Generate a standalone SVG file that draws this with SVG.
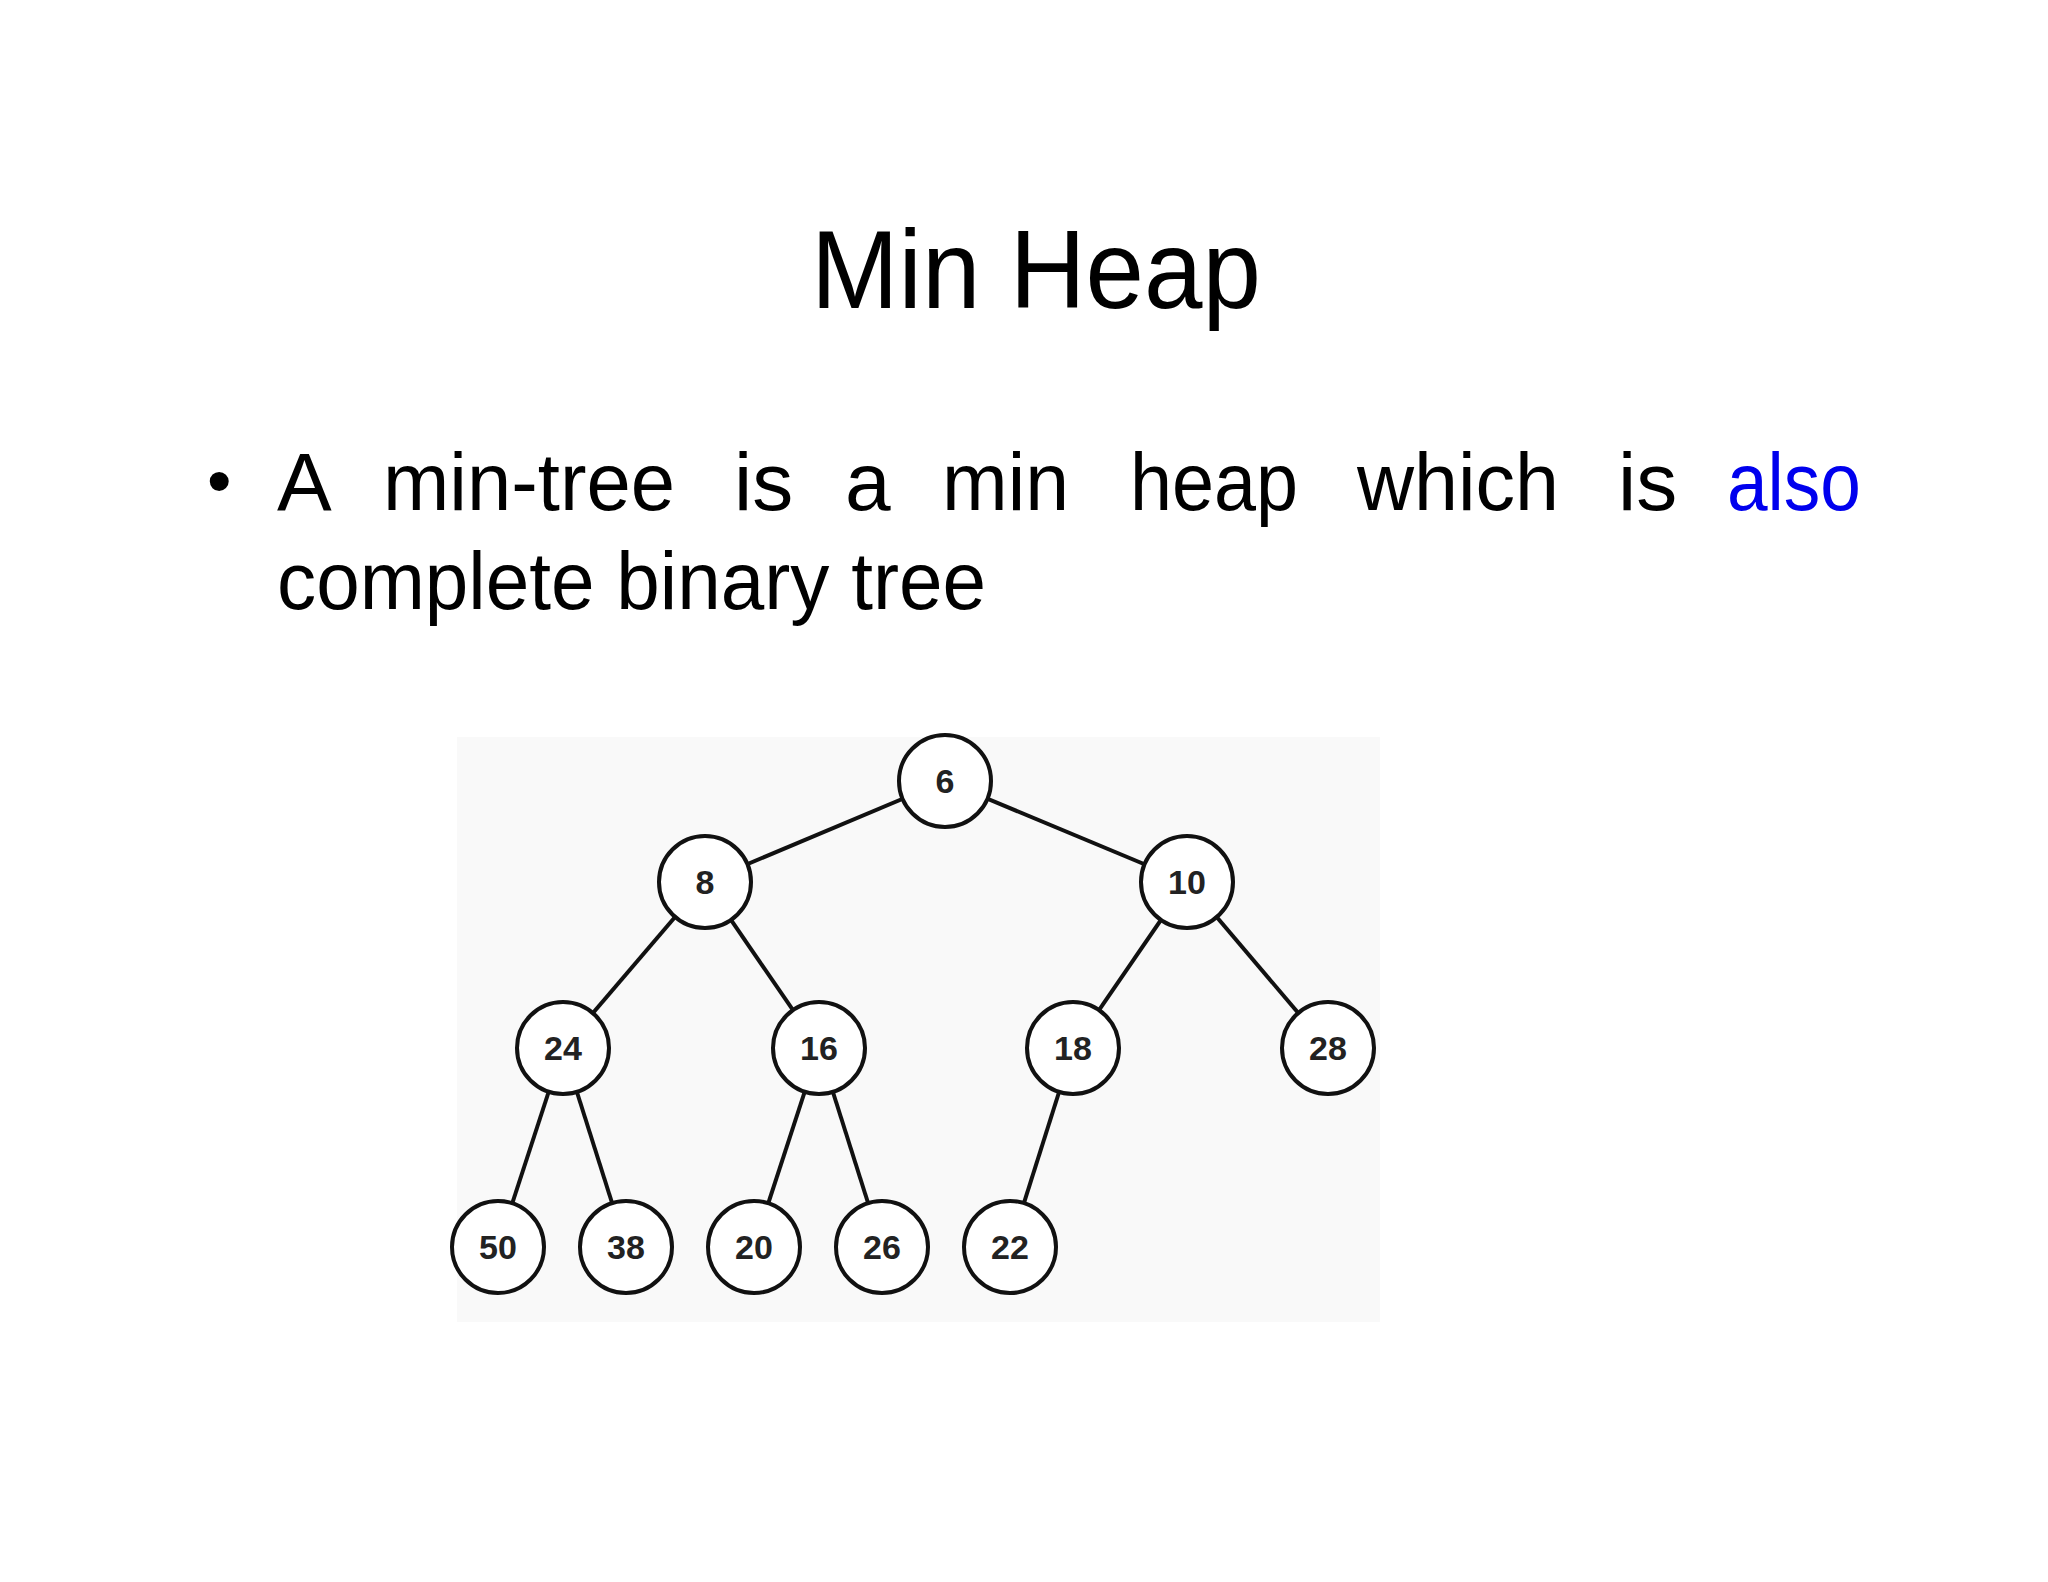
<svg xmlns="http://www.w3.org/2000/svg" width="2048" height="1582" viewBox="0 0 2048 1582">
<style>
.t{font-family:"Liberation Sans",Arial,sans-serif;fill:#000}
.n circle{fill:#fff;stroke:#111;stroke-width:4}
.n text{font-family:"Liberation Sans",Arial,sans-serif;font-weight:bold;font-size:34px;text-anchor:middle;fill:#222}
#edges line{stroke:#111;stroke-width:4}
</style>
<rect width="2048" height="1582" fill="#fff"/>
<text class="t" x="1036" y="308" font-size="112" text-anchor="middle" textLength="450" lengthAdjust="spacingAndGlyphs">Min Heap</text>
<text class="t" x="207" y="505" font-size="70">•</text>
<g class="t" font-size="82">
<text x="277" y="510">A</text>
<text x="383" y="510" textLength="292" lengthAdjust="spacingAndGlyphs">min-tree</text>
<text x="734" y="510">is</text>
<text x="845" y="510">a</text>
<text x="942" y="510" textLength="127" lengthAdjust="spacingAndGlyphs">min</text>
<text x="1130" y="510" textLength="168" lengthAdjust="spacingAndGlyphs">heap</text>
<text x="1357" y="510" textLength="202" lengthAdjust="spacingAndGlyphs">which</text>
<text x="1618" y="510">is</text>
<text x="1727" y="510" style="fill:#0000ee" textLength="134" lengthAdjust="spacingAndGlyphs">also</text>
<text x="277" y="609" textLength="709" lengthAdjust="spacingAndGlyphs">complete binary tree</text>
</g>
<g transform="translate(-9,-8)">
<rect x="466" y="745" width="923" height="585" fill="#f9f9f9"/>
<g id="edges">
<line x1="954" y1="789" x2="714" y2="890"/>
<line x1="954" y1="789" x2="1196" y2="890"/>
<line x1="714" y1="890" x2="572" y2="1056"/>
<line x1="714" y1="890" x2="828" y2="1056"/>
<line x1="1196" y1="890" x2="1082" y2="1056"/>
<line x1="1196" y1="890" x2="1337" y2="1056"/>
<line x1="572" y1="1056" x2="507" y2="1255"/>
<line x1="572" y1="1056" x2="635" y2="1255"/>
<line x1="828" y1="1056" x2="763" y2="1255"/>
<line x1="828" y1="1056" x2="891" y2="1255"/>
<line x1="1082" y1="1056" x2="1019" y2="1255"/>
</g>
<g id="n6" class="n"><circle cx="954" cy="789" r="46"/><text x="954" y="801">6</text></g>
<g id="n8" class="n"><circle cx="714" cy="890" r="46"/><text x="714" y="902">8</text></g>
<g id="n10" class="n"><circle cx="1196" cy="890" r="46"/><text x="1196" y="902">10</text></g>
<g id="n24" class="n"><circle cx="572" cy="1056" r="46"/><text x="572" y="1068">24</text></g>
<g id="n16" class="n"><circle cx="828" cy="1056" r="46"/><text x="828" y="1068">16</text></g>
<g id="n18" class="n"><circle cx="1082" cy="1056" r="46"/><text x="1082" y="1068">18</text></g>
<g id="n28" class="n"><circle cx="1337" cy="1056" r="46"/><text x="1337" y="1068">28</text></g>
<g id="n50" class="n"><circle cx="507" cy="1255" r="46"/><text x="507" y="1267">50</text></g>
<g id="n38" class="n"><circle cx="635" cy="1255" r="46"/><text x="635" y="1267">38</text></g>
<g id="n20" class="n"><circle cx="763" cy="1255" r="46"/><text x="763" y="1267">20</text></g>
<g id="n26" class="n"><circle cx="891" cy="1255" r="46"/><text x="891" y="1267">26</text></g>
<g id="n22" class="n"><circle cx="1019" cy="1255" r="46"/><text x="1019" y="1267">22</text></g>
</g>
</svg>
